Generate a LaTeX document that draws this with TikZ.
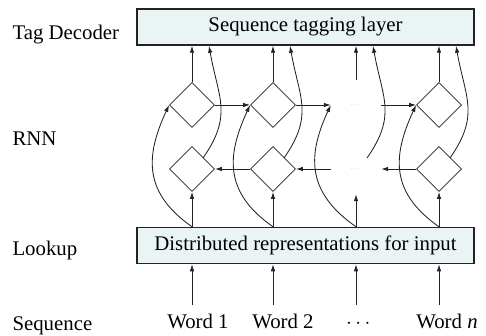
\documentclass[tikz,border=0pt]{standalone}
\usepackage{amsmath}
\usepackage{fontspec}
\setmainfont{Liberation Serif}
\usetikzlibrary{arrows.meta,calc,positioning,shapes.geometric}
\definecolor{layerfill}{RGB}{234,244,244}
\definecolor{inkgray}{RGB}{35,35,35}

\begin{document}
\begin{tikzpicture}[x=1pt,y=-1pt,
    font=\fontsize{20.8}{24}\selectfont,
    layer/.style={draw=inkgray,line width=1.5pt,fill=layerfill,minimum width=337pt,minimum height=36pt},
    cell/.style={diamond,draw=inkgray,line width=0.8pt,inner sep=0pt,minimum size=45pt},
    gap/.style={minimum width=50pt,minimum height=50pt,inner sep=0pt,text=gray!70,font=\scriptsize},
    flow/.style={draw=inkgray,line width=0.85pt,-{Latex[length=7pt,width=4.5pt]}}]
    \useasboundingbox (0,0) rectangle (486,336);

    % layers
    \node[layer] (tagger) at (305.5,27) {Sequence tagging layer};
    \node[layer] (lookup) at (305.5,245.5) {Distributed representations for input};

    % forward and backward cells
    \node[cell] (fw1) at (192,105) {};
    \node[cell] (fw2) at (273,105) {};
    \node[gap]  (fw3) at (356,105) {$\cdots$};
    \node[cell] (fw4) at (439,105) {};
    \node[cell] (bw1) at (192,169) {};
    \node[cell] (bw2) at (273,169) {};
    \node[gap]  (bw3) at (356,169) {$\cdots$};
    \node[cell] (bw4) at (439,169) {};

    % row labels
    \node[anchor=base west] (lbltag) at (9,40) {Tag Decoder};
    \node[anchor=base west] (lblrnn) at (9,146) {RNN};
    \node[anchor=base west] (lbllookup) at (9,255) {Lookup};
    \node[anchor=base west] (lblseq) at (9,330) {Sequence};

    % words
    \node[anchor=base] (word1) at (198,328) {Word 1};
    \node[anchor=base] (word2) at (283,328) {Word 2};
    \node[anchor=base] (word3) at (360,328) {$\cdots$};
    \node[anchor=base] (word4) at (447,328) {Word \textit{n}};
    \coordinate (in1) at (192,305);
    \coordinate (in2) at (273,305);
    \coordinate (in3) at (356,305);
    \coordinate (in4) at (439,305);

    \foreach \c in {1,2,3,4} {
        \draw[flow] (in\c) -- (in\c |- lookup.south);
        \draw[flow] (bw\c.south |- lookup.north) -- (bw\c.south);
        \draw[flow] (fw\c.north) -- (fw\c.north |- tagger.south);
        \draw[flow] (fw\c.south |- lookup.north) to[out=145,in=-115,looseness=1.2] (fw\c.west);
        \draw[flow] ([shift={(11,-11)}]bw\c.center) to[out=55,in=-80,looseness=1.2] ($(bw\c.center |- tagger.south)+(17,0)$);
    }

    \foreach \from/\to in {fw1/fw2,fw2/fw3,fw3/fw4}
        \draw[flow] (\from.east) -- (\to.west);
    \foreach \from/\to in {bw2/bw1,bw3/bw2,bw4/bw3}
        \draw[flow] (\from.west) -- (\to.east);
\end{tikzpicture}
\end{document}
